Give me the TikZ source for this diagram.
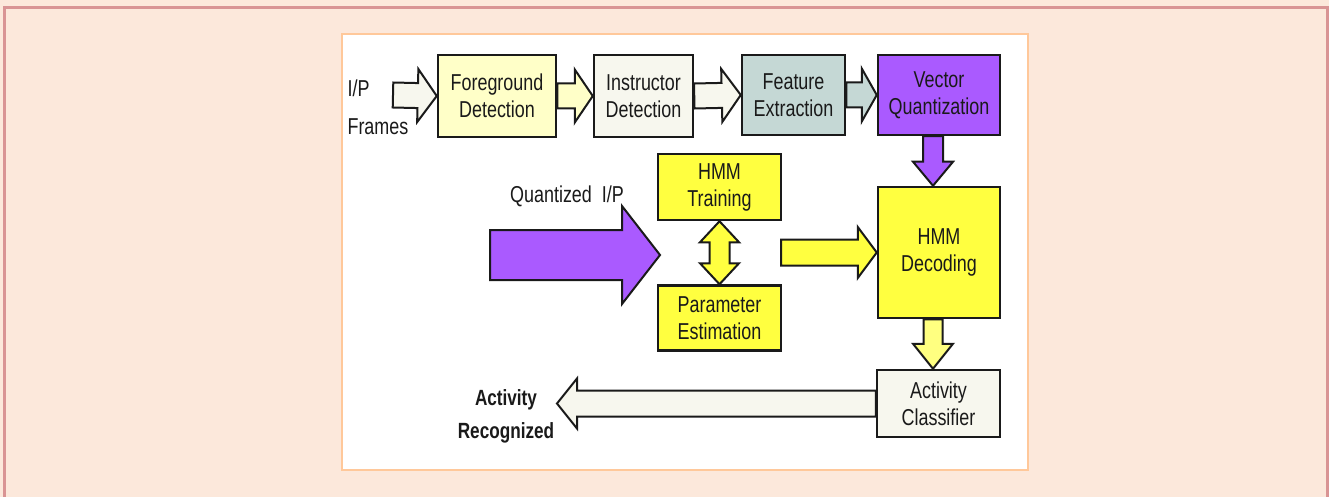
\documentclass[tikz,border=0pt]{standalone}
\usepackage{fontspec}
\setmainfont{Liberation Sans}[FakeStretch=0.78]
\usetikzlibrary{calc,positioning}
\definecolor{pagebg}{HTML}{FCE8DB}
\definecolor{pageframe}{HTML}{D99494}
\definecolor{panelframe}{HTML}{FFC89A}
\definecolor{paleyellow}{HTML}{FFFFC8}
\definecolor{offwhite}{HTML}{F7F7EE}
\definecolor{greyteal}{HTML}{C5D8D5}
\definecolor{vqpurple}{HTML}{AA5AFF}
\definecolor{hmmyellow}{HTML}{FFFF40}
\definecolor{lightyellow}{HTML}{FFFF80}
\definecolor{ink}{HTML}{1A1A1A}
\tikzset{
  arshaft/.store in=\arShaft, arhead/.store in=\arHead, arlen/.store in=\arLen,
  arshaft=12.5pt, arhead=26.5pt, arlen=19pt,
  blockarrow/.style={draw=ink, line width=2pt, line join=miter, to path={
    -- ($(\tikztostart)!\arShaft!90:(\tikztotarget)$)
    -- ($(\tikztotarget)!\arLen!(\tikztostart)!\arShaft!90:(\tikztotarget)$)
    -- ($(\tikztotarget)!\arLen!(\tikztostart)!\arHead!90:(\tikztotarget)$)
    -- (\tikztotarget)
    -- ($(\tikztotarget)!\arLen!(\tikztostart)!\arHead!-90:(\tikztotarget)$)
    -- ($(\tikztotarget)!\arLen!(\tikztostart)!\arShaft!-90:(\tikztotarget)$)
    -- ($(\tikztostart)!\arShaft!-90:(\tikztotarget)$)
    -- cycle}},
  dblockarrow/.style={draw=ink, line width=2pt, line join=miter, to path={
    -- ($(\tikztostart)!\arLen!(\tikztotarget)!\arHead!90:(\tikztotarget)$)
    -- ($(\tikztostart)!\arLen!(\tikztotarget)!\arShaft!90:(\tikztotarget)$)
    -- ($(\tikztotarget)!\arLen!(\tikztostart)!\arShaft!90:(\tikztotarget)$)
    -- ($(\tikztotarget)!\arLen!(\tikztostart)!\arHead!90:(\tikztotarget)$)
    -- (\tikztotarget)
    -- ($(\tikztotarget)!\arLen!(\tikztostart)!\arHead!-90:(\tikztotarget)$)
    -- ($(\tikztotarget)!\arLen!(\tikztostart)!\arShaft!-90:(\tikztotarget)$)
    -- ($(\tikztostart)!\arLen!(\tikztotarget)!\arShaft!-90:(\tikztotarget)$)
    -- ($(\tikztostart)!\arLen!(\tikztotarget)!\arHead!-90:(\tikztotarget)$)
    -- cycle}},
}
\begin{document}
\begin{tikzpicture}[x=1pt, y=-1pt, font=\fontsize{23}{27}\selectfont, text=ink,
    box/.style={draw=ink, line width=2.5pt, align=center, inner sep=0pt}]
  \useasboundingbox (0,0) rectangle (1329,497);
  \fill [pagebg] (0,0) rectangle (1329,497);
  \draw [pageframe, line width=3pt] (4.5,497) -- (4.5,7.5) -- (1327.5,7.5) -- (1327.5,497);
  \draw [panelframe, line width=2pt, fill=white] (342,34) rectangle (1028,470);

  \node (fg)  [box, fill=paleyellow, minimum width=118pt, minimum height=82pt] at (497,96)     {Foreground\\Detection};
  \node (id)  [box, fill=offwhite,   minimum width=99pt,  minimum height=82pt] at (643.5,96)   {Instructor\\Detection};
  \node (fe)  [box, fill=greyteal,   minimum width=103pt, minimum height=80pt] at (793.5,95)   {Feature\\Extraction};
  \node (vq)  [box, fill=vqpurple,   minimum width=122pt, minimum height=80pt] at (939,95)     {Vector\\Quantization};
  \node (tr)  [box, fill=hmmyellow,  minimum width=123pt, minimum height=66pt] at (719.5,187)  {HMM\\Training};
  \node (pe)  [box, fill=hmmyellow,  minimum width=123pt, minimum height=65pt, below=63pt of tr] {Parameter\\Estimation};
  \node (dec) [box, fill=hmmyellow,  minimum width=122pt, minimum height=131pt] at (939,252.5) {HMM\\Decoding};
  \node (cls) [box, fill=offwhite,   minimum width=123pt, minimum height=67pt] at (938.5,403.5) {Activity\\Classifier};

  \node (ip)  [anchor=west, align=left, font=\fontsize{23}{38}\selectfont] at (344,107) {I/P\\Frames};
  \node (qip) at (567,196) {Quantized\ \ I/P};
  \node (out) [align=center, font=\fontsize{22}{33}\bfseries\selectfont] at (506,416) {Activity\\Recognized};

  \coordinate (ipin)   at (393,95);
  \coordinate (qin)    at (490,255);
  \coordinate (qtip)   at (660,255);
  \coordinate (hin)    at (781,252.5);
  \coordinate (otip)   at (557,403.5);
  \coordinate (vqout)  at ([xshift=-6pt]vq.south);
  \coordinate (decin)  at ([xshift=-6pt]dec.north);
  \coordinate (decout) at ([xshift=-6pt]dec.south);
  \coordinate (clsin)  at ([xshift=-5.5pt]cls.north);

  \draw [blockarrow, fill=offwhite]   (ipin)   to (fg.west);
  \draw [blockarrow, fill=paleyellow, arlen=18pt] (fg.east) to (id.west);
  \draw [blockarrow, fill=offwhite]   (id.east) to (fe.west);
  \draw [blockarrow, fill=greyteal, arlen=15pt] (fe.east) to (vq.west);
  \draw [blockarrow, fill=vqpurple, arshaft=10pt, arhead=20pt, arlen=24pt] (vqout) to (decin);
  \draw [blockarrow, fill=vqpurple, arshaft=25pt, arhead=49pt, arlen=38pt] (qin) to (qtip);
  \draw [dblockarrow, fill=hmmyellow, arshaft=10pt, arhead=19.5pt, arlen=21pt] (tr.south) to (pe.north);
  \draw [blockarrow, fill=hmmyellow, arshaft=13pt, arhead=25.5pt, arlen=19pt] (hin) to (dec.west);
  \draw [blockarrow, fill=lightyellow, arshaft=9.5pt, arhead=20pt, arlen=25pt] (decout) to (clsin);
  \draw [blockarrow, fill=offwhite, arshaft=13pt, arhead=25pt, arlen=20pt] (cls.west) to (otip);
\end{tikzpicture}
\end{document}
